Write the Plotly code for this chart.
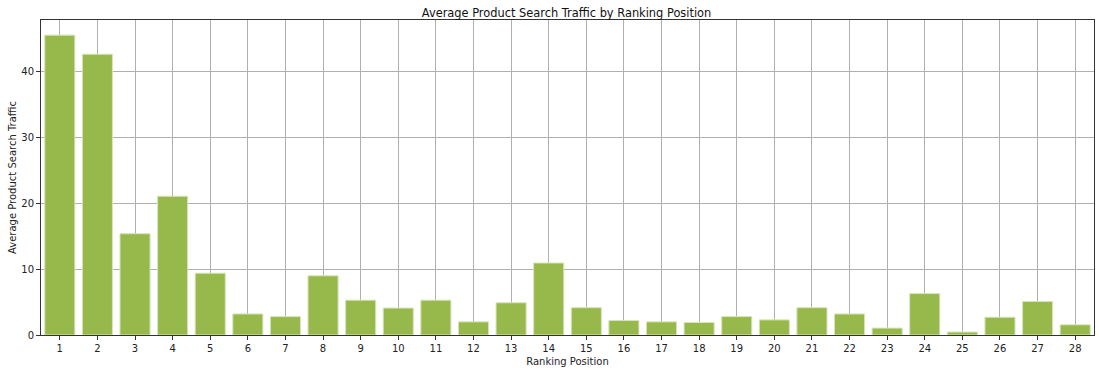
import plotly.graph_objects as go

positions = [str(i) for i in range(1, 29)]
traffic = [45.6, 42.7, 15.4, 21.1, 9.4, 3.2, 2.8, 9.0, 5.3, 4.1,
           5.3, 2.0, 4.9, 10.95, 4.15, 2.2, 2.0, 1.9, 2.8, 2.3,
           4.15, 3.2, 1.05, 6.3, 0.45, 2.7, 5.1, 1.55]

fig = go.Figure(go.Bar(
    x=positions, y=traffic,
    marker=dict(color="#97b94c", line=dict(color="#d6e5b8", width=1)),
    width=0.8,
))

font = "DejaVu Sans"
fig.update_layout(
    width=1099, height=370,
    margin=dict(l=41, r=5, t=20, b=35, autoexpand=False),
    paper_bgcolor="white", plot_bgcolor="white",
    showlegend=False,
    font=dict(family=font, size=10, color="#222"),
    title=dict(text="Average Product Search Traffic by Ranking Position",
               x=0.5155, xanchor="center", y=0.966, yanchor="middle",
               automargin=False,
               font=dict(family=font, size=11.4, color="#111")),
    bargap=0.2,
)
fig.update_xaxes(
    type="category", range=[-0.5, 27.5], automargin=False,
    showgrid=True, gridcolor="#b0b0b0", gridwidth=1,
    showline=True, linecolor="#333", linewidth=1, mirror=True,
    ticks="outside", ticklen=4, tickcolor="#333",
    title=dict(text="Ranking Position", standoff=4, font=dict(size=10)),
    layer="above traces",
)
fig.update_yaxes(
    range=[0, 47.9], tickvals=[0, 10, 20, 30, 40], automargin=False,
    showgrid=True, gridcolor="#b0b0b0", gridwidth=1, zeroline=False,
    showline=True, linecolor="#333", linewidth=1, mirror=True,
    ticks="outside", ticklen=4, tickcolor="#333",
    title=dict(text="Average Product Search Traffic", standoff=2, font=dict(size=10)),
    layer="above traces",
)

fig.write_html("out.html", config={"displayModeBar": False},
               post_script="document.body.style.margin='0';document.body.style.overflow='hidden';")
